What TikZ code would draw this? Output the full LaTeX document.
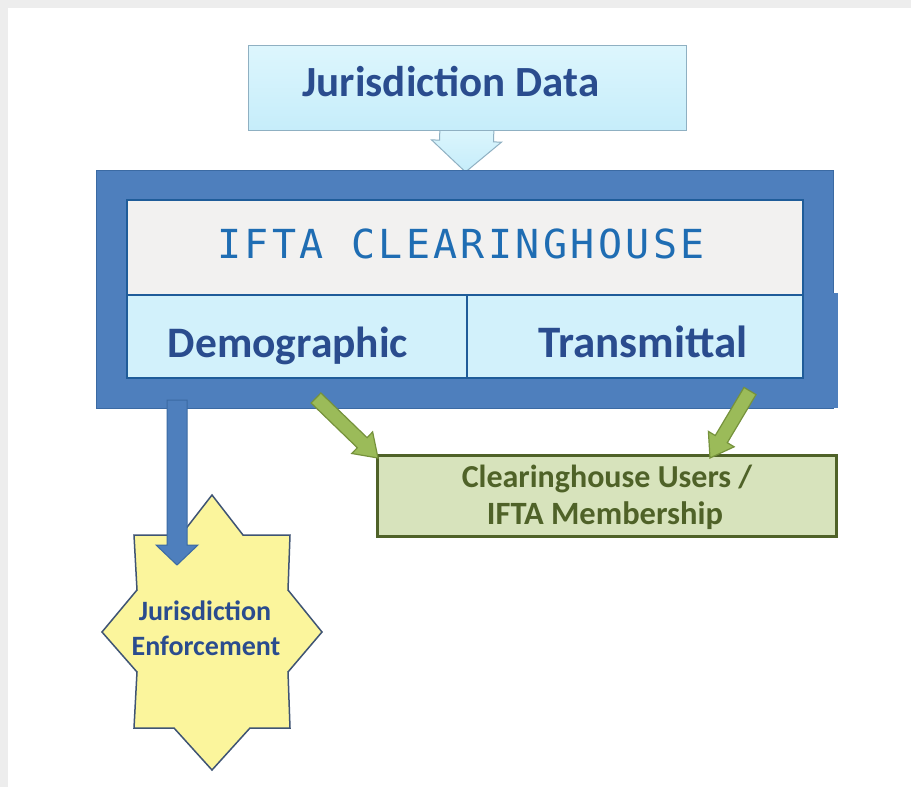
\documentclass[tikz,border=0pt]{standalone}
\usepackage{fontspec}
\setmainfont{Carlito}
\newfontfamily\monofnt{DejaVu Sans Mono}[LetterSpace=8.5]
\usetikzlibrary{calc,backgrounds}
\definecolor{bigblue}{HTML}{4E7FBD}
\definecolor{bigblueline}{HTML}{3B6AA3}
\definecolor{cyanfill}{HTML}{D2F1FB}
\definecolor{cyantop}{HTML}{DDF6FD}
\definecolor{cyanbot}{HTML}{C6EDFA}
\definecolor{cyanline}{HTML}{8FB0C2}
\definecolor{grayfill}{HTML}{F2F1F0}
\definecolor{cellline}{HTML}{1F5C99}
\definecolor{labelblue}{HTML}{2A4C8E}
\definecolor{iftablue}{HTML}{1F6DB3}
\definecolor{greenfill}{HTML}{D7E3BC}
\definecolor{greenline}{HTML}{4F6228}
\definecolor{greentext}{HTML}{4F6228}
\definecolor{arrowgreen}{HTML}{9BBB59}
\definecolor{arrowgreenline}{HTML}{76923C}
\definecolor{staryellow}{HTML}{FBF59C}
\definecolor{starline}{HTML}{3F5474}
\newcommand\blockarrow[6]{%
  \coordinate (ba-s) at ($(#3)!#6!(#2)$);
  \path[#1] ($(#2)!#4!90:(#3)$) -- ($(ba-s)!#4!-90:(#2)$) -- ($(ba-s)!#5!-90:(#2)$)
    -- (#3) -- ($(ba-s)!#5!90:(#2)$) -- ($(ba-s)!#4!90:(#2)$) -- ($(#2)!#4!-90:(#3)$) -- cycle;
}
\tikzset{
  boxnode/.style={rectangle, inner sep=0pt, outer sep=0pt},
  bluelbl/.style={font=\bfseries\fontsize{44}{44}\selectfont, text=labelblue, inner sep=0pt},
  greenlbl/.style={font=\bfseries\fontsize{32}{32}\selectfont, text=greentext, inner sep=0pt, anchor=base},
  greenarrow/.style={fill=arrowgreen, draw=arrowgreenline, line width=1.2pt, line join=miter},
  bluearrow/.style={fill=bigblue, draw=bigblueline, line width=1pt},
  cyanarrow/.style={top color=cyantop, bottom color=cyanbot, draw=cyanline, line width=1pt},
}
\begin{document}
\begin{tikzpicture}[x=1pt,y=-1pt]
\useasboundingbox (0,0) rectangle (911,787);
\begin{pgfonlayer}{background}
\fill[white] (0,0) rectangle (911,787);
\fill[black!7] (0,0) rectangle (911,8);
\fill[black!7] (0,0) rectangle (8,787);
\end{pgfonlayer}

% Jurisdiction Data box
\node[boxnode, top color=cyantop, bottom color=cyanbot, draw=cyanline, line width=1pt,
      minimum width=438pt, minimum height=85pt] (jd) at (467,87.5) {};
\node[bluelbl, font=\bfseries\fontsize{43}{43}\selectfont] (jdt) at (451,82) {Jurisdiction Data};

% outer blue box
\node[boxnode, fill=bigblue, draw=bigblueline, line width=1pt,
      minimum width=737pt, minimum height=238pt] (ch) at (464.5,289) {};
\fill[bigblue] (832,293) rectangle (838,408);

% cyan arrow from Jurisdiction Data into the clearinghouse
\begin{pgfonlayer}{background}
\coordinate (cyantail) at ($(jd.south)+(0,-4)$);
\coordinate (cyantip) at ($(ch.north)+(1,2)$);
\blockarrow{cyanarrow}{cyantail}{cyantip}{27pt}{35pt}{31pt}
\end{pgfonlayer}

% inner cells
\node[boxnode, fill=grayfill, draw=cellline, line width=1.5pt,
      minimum width=676pt, minimum height=95pt] (ifta) at (465,247.5) {};
\node[font=\monofnt\fontsize{40}{40}\selectfont, text=iftablue, inner sep=0pt, anchor=base]
      (iftat) at (461,258) {IFTA CLEARINGHOUSE};
\node[boxnode, fill=cyanfill, draw=cellline, line width=1.8pt,
      minimum width=340pt, minimum height=83pt] (demo) at (297,336.5) {};
\node[boxnode, fill=cyanfill, draw=cellline, line width=1.8pt,
      minimum width=336pt, minimum height=83pt] (trans) at (635,336.5) {};
\node[bluelbl, anchor=base, font=\bfseries\fontsize{43.5}{44}\selectfont] (demot) at (288,357) {Demographic};
\node[bluelbl, anchor=base, font=\bfseries\fontsize{45}{45}\selectfont] (transt) at (643,357) {Transmittal};

% users box
\node[boxnode, fill=greenfill, draw=greenline, line width=3pt,
      minimum width=459pt, minimum height=81pt] (users) at (606.5,495.5) {};
\node[greenlbl] (userst1) at (607,487) {Clearinghouse Users /};
\node[greenlbl, font=\bfseries\fontsize{32.5}{33}\selectfont] (userst2) at (605,524) {IFTA Membership};

% star
\coordinate (starc) at (212,632);
\draw[fill=staryellow, draw=starline, line width=1.5pt, line join=miter, shift={(starc)}]
  (0,-137) -- (31,-97) -- (78,-97) -- (76,-42) -- (110,0) -- (76,40) -- (78,96)
  -- (38,96) -- (0,138) -- (-38,96) -- (-78,96) -- (-75,40) -- (-110,0) -- (-75,-42)
  -- (-78,-97) -- (-31,-97) -- cycle;
\node[bluelbl, font=\bfseries\fontsize{28}{28}\selectfont, anchor=base] (start1) at (205,620) {Jurisdiction};
\node[bluelbl, font=\bfseries\fontsize{28}{28}\selectfont, anchor=base] (start2) at (206,655) {Enforcement};

% arrows
\coordinate (bluetail) at (177,400);
\coordinate (bluetip) at (177,565);
\blockarrow{bluearrow}{bluetail}{bluetip}{10pt}{21pt}{20pt}

\coordinate (g1tail) at (316,398);
\coordinate (g1tip) at ($(users.north west)+(1,3)$);
\blockarrow{greenarrow}{g1tail}{g1tip}{7pt}{15pt}{22pt}

\coordinate (g2tail) at (750,391);
\coordinate (g2tip) at (710,458);
\blockarrow{greenarrow}{g2tail}{g2tip}{7pt}{15pt}{22pt}
\end{tikzpicture}
\end{document}
